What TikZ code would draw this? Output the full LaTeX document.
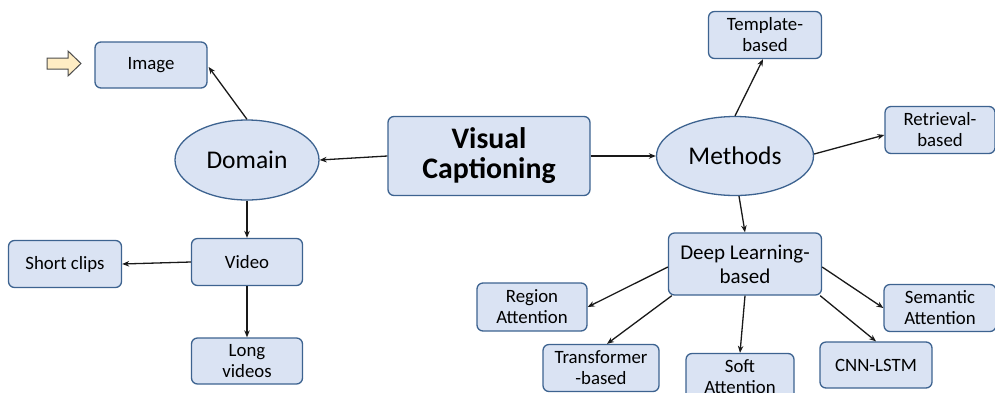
\documentclass[tikz,border=0pt]{standalone}
\usepackage{fontspec}
\setmainfont{Carlito}
\usetikzlibrary{arrows.meta,shapes.geometric,calc}
\definecolor{boxfill}{HTML}{DAE3F3}
\definecolor{boxline}{HTML}{3D6390}
\definecolor{hintfill}{HTML}{FFEDC4}
\tikzset{
  box/.style={draw=boxline, fill=boxfill, line width=1.3pt, rounded corners=6pt,
    align=center, inner sep=0pt, font=\fontsize{18.8}{21}\selectfont},
  oval/.style={draw=boxline, fill=boxfill, line width=1.3pt, ellipse,
    inner sep=0pt, font=\fontsize{25.5}{28}\selectfont},
  link/.style={line width=1.3pt, draw=black!90, -{Stealth[length=7pt,width=5.5pt]}}
}
\begin{document}
\begin{tikzpicture}[x=1pt,y=-1pt]
\clip (0,0) rectangle (995,392);
% central topic
\node[box, minimum width=202, minimum height=79,
  font=\fontsize{29.8}{30}\selectfont\bfseries] (vc) at (489,156) {Visual\\Captioning};
% domain branch
\node[oval, minimum width=144, minimum height=80] (dom) at (247,160) {Domain};
\node[box, minimum width=112, minimum height=46] (img) at (151,65) {Image};
\node[box, minimum width=111, minimum height=47] (vid) at (247,262) {Video};
\node[box, minimum width=113, minimum height=47] (short) at (65,264) {Short clips};
\node[box, minimum width=111, minimum height=46] (long) at (247,361) {Long\\videos};
% methods branch
\node[oval, minimum width=157, minimum height=79] (meth) at (735,156) {Methods};
\node[box, minimum width=113, minimum height=47] (tmpl) at (765,35) {Template-\\based};
\node[box, minimum width=110, minimum height=47] (retr) at (940,130) {Retrieval-\\based};
\node[box, minimum width=153, minimum height=62,
  font=\fontsize{21}{24}\selectfont] (dl) at (745,264) {Deep Learning-\\based};
\node[box, minimum width=110, minimum height=48] (reg) at (532,307) {Region\\Attention};
\node[box, minimum width=116, minimum height=47] (trans) at (601,368) {Transformer\\-based};
\node[box, minimum width=108, minimum height=47] (soft) at (740,377) {Soft\\Attention};
\node[box, minimum width=112, minimum height=46] (cnn) at (876,365) {CNN-LSTM};
\node[box, minimum width=112, minimum height=47] (sem) at (940,308) {Semantic\\Attention};
% pointer arrow beside the Image box
\draw[fill=hintfill, draw=black!70, line width=1pt]
  (47,58) -- (68,58) -- (68,51) -- (81,63.5) -- (68,76) -- (68,69) -- (47,69) -- cycle;
% connectors
\draw[link] (vc.west) -- (dom.east);
\draw[link] (vc.east) -- (meth.west);
\draw[link] (dom.north) -- ($(img.east)+(1,2)$);
\draw[link] (dom.south) -- (vid.north);
\draw[link] (vid.west) -- (short.east);
\draw[link] (vid.south) -- (long.north);
\draw[link] (meth.north) -- ($(tmpl.south)+(-2,0)$);
\draw[link] ($(meth.east)+(0,-2)$) -- ($(retr.west)+(0,5)$);
\draw[link] ($(meth.south)+(4,0)$) -- (dl.north);
\draw[link] ($(dl.west)+(0,3)$) -- (reg.east);
\draw[link] ($(dl.south west)+(4,0)$) -- ($(trans.north)+(6,0)$);
\draw[link] (dl.south) -- (soft.north);
\draw[link] ($(dl.south east)+(-2,0)$) -- (cnn.north);
\draw[link] ($(dl.east)+(0,3)$) -- (sem.west);
\end{tikzpicture}
\end{document}
